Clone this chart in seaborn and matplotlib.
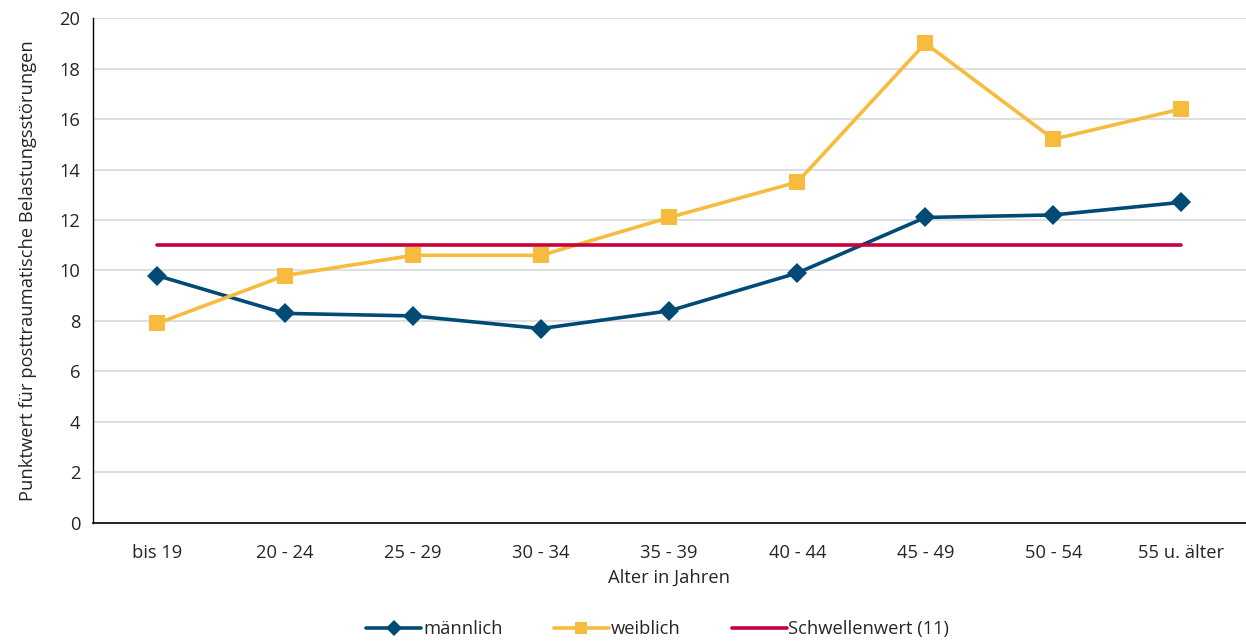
import pandas as pd
import numpy as np
import matplotlib
matplotlib.use('Agg')
import matplotlib.pyplot as plt
import seaborn as sns

# Werte
altersgruppen = ['bis 19', '20 - 24', '25 - 29', '30 - 34', '35 - 39',
                 '40 - 44', '45 - 49', '50 - 54', '55 u. älter']
maennlich = [9.8, 8.3, 8.2, 7.7, 8.4, 9.9, 12.1, 12.2, 12.7]
weiblich = [7.9, 9.8, 10.6, 10.6, 12.1, 13.5, 19.0, 15.2, 16.4]
schwellenwert = [11] * len(altersgruppen)

serien = ['männlich', 'weiblich', 'Schwellenwert (11)']
farben = {'männlich': '#004b76', 'weiblich': '#f7bb3d', 'Schwellenwert (11)': '#c8003c'}
marker = {'männlich': 'D', 'weiblich': 's', 'Schwellenwert (11)': ''}

df = pd.DataFrame({
    'pos': list(range(len(altersgruppen))) * 3,
    'wert': maennlich + weiblich + schwellenwert,
    'serie': np.repeat(serien, len(altersgruppen)),
})

sns.set_style('white')
plt.rcParams['font.family'] = ['Open Sans', 'DejaVu Sans']
fs = 13.2

fig = plt.figure(figsize=(12.46, 6.44), dpi=100)
ax = fig.add_axes([0.0746, 0.188, 0.925, 0.784])

for s in serien:
    sub = df[df['serie'] == s]
    sns.lineplot(data=sub, x='pos', y='wert', ax=ax, color=farben[s],
                 marker=marker[s] if marker[s] else None,
                 markersize=11 if marker[s] == 's' else 10,
                 markeredgewidth=0, linewidth=2.6, label=s)

ax.set_xlim(-0.5, len(altersgruppen) - 0.5)
ax.set_ylim(0, 20)
ax.set_yticks(range(0, 21, 2))
ax.yaxis.grid(True, color='#d9d9d9', linewidth=1.2)
ax.set_axisbelow(True)

ax.set_xticks(range(len(altersgruppen)))
ax.set_xticklabels(altersgruppen, fontsize=fs)
ax.set_xticks(np.arange(-0.5, len(altersgruppen), 1), minor=True)
ax.tick_params(axis='x', which='major', length=0, pad=15)
ax.tick_params(axis='x', which='minor', length=8, width=1, color='black', direction='out')
ax.tick_params(axis='y', length=5, width=1, color='black', direction='out', labelsize=fs, pad=4)

for sp in ['top', 'right']:
    ax.spines[sp].set_visible(False)
ax.spines['left'].set_color('black')
ax.spines['bottom'].set_color('black')
ax.spines['left'].set_linewidth(1)
ax.spines['bottom'].set_linewidth(1.2)

ax.set_xlabel('Alter in Jahren', fontsize=fs, labelpad=5)
ax.set_ylabel('Punktwert für posttraumatische Belastungsstörungen', fontsize=fs, labelpad=16)

leg = ax.legend(loc='upper center', bbox_to_anchor=(0.49, -0.16), ncol=3, frameon=False,
                fontsize=fs, handlelength=3.0, handletextpad=0.1, columnspacing=2.8,
                markerscale=0.8)

fig.savefig('out.png', dpi=100)
